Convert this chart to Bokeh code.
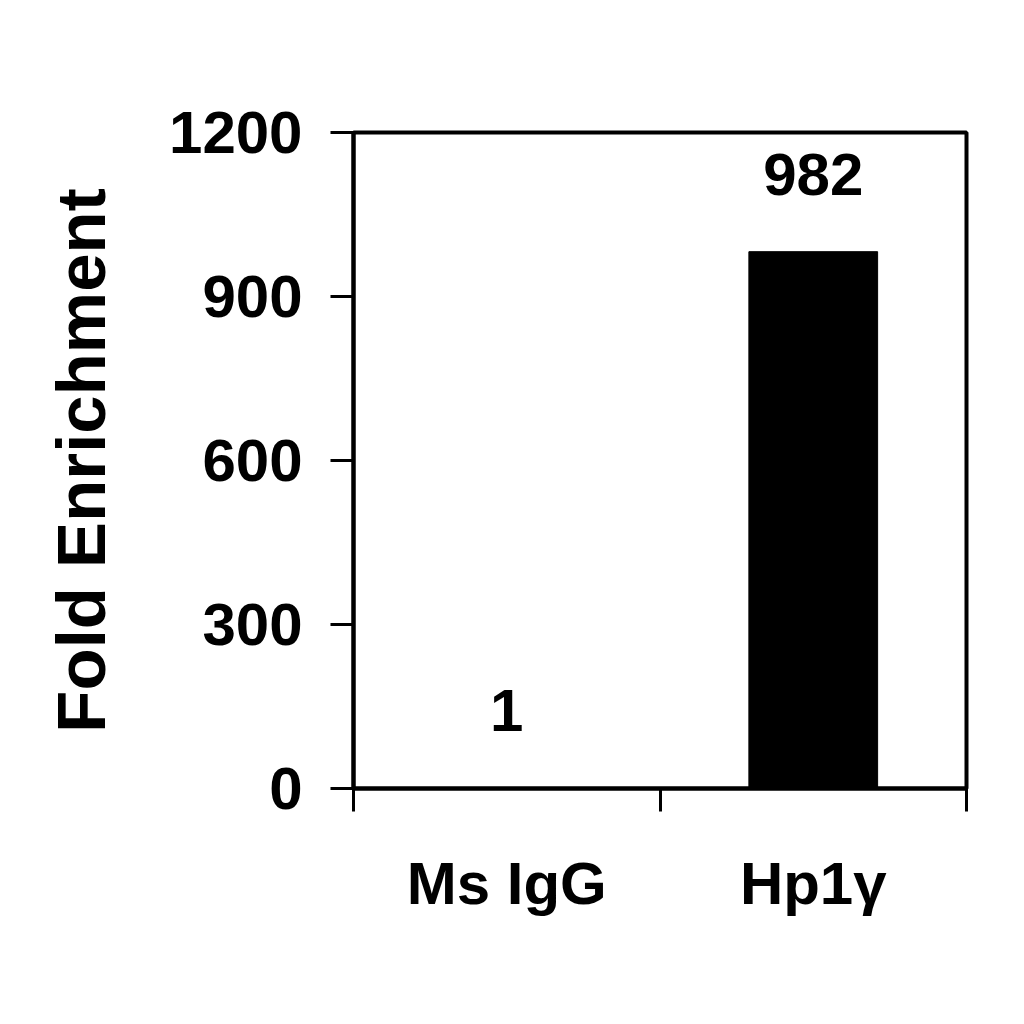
from bokeh.plotting import figure
from bokeh.models import Range1d, FixedTicker, ColumnDataSource
from bokeh.embed import file_html
from bokeh.resources import INLINE
from bokeh.core.properties import value

categories = ["Ms IgG", "Hp1\u03b3"]
fold_enrichment = [1, 982]
value_labels = ["1", "982"]
y_ticks = [0, 300, 600, 900, 1200]

FONT = "Liberation Sans"

positions = [i + 0.5 for i in range(len(categories))]
src = ColumnDataSource(dict(x=positions, top=fold_enrichment, label=value_labels))

p = figure(
    frame_width=613, frame_height=656,
    min_border_left=353, min_border_right=40, min_border_top=132, min_border_bottom=218,
    x_range=Range1d(0, len(categories)), y_range=Range1d(0, 1200),
    output_backend="svg", toolbar_location=None,
)
p.background_fill_color = "white"
p.border_fill_color = "white"
p.outline_line_color = "black"
p.outline_line_width = 4
p.xgrid.visible = False
p.ygrid.visible = False

p.vbar(x="x", top="top", width=0.42, bottom=0, source=src,
       fill_color="black", line_color="black")

p.text(x="x", y="top", text="label", source=src, y_offset=-77,
       text_align="center", text_baseline="alphabetic",
       text_font=value(FONT), text_font_style="bold",
       text_font_size="60px", text_color="black")

# y axis
ya = p.yaxis[0]
ya.ticker = FixedTicker(ticks=y_ticks)
ya.minor_tick_line_color = None
ya.major_tick_out = 23
ya.major_tick_in = 0
ya.major_tick_line_width = 3
ya.axis_line_width = 4
ya.major_label_standoff = 28
ya.major_label_text_font = FONT
ya.major_label_text_font_style = "bold"
ya.major_label_text_font_size = "60px"
ya.major_label_text_color = "black"
ya.axis_label = "Fold Enrichment"
ya.axis_label_text_font = FONT
ya.axis_label_text_font_style = "bold"
ya.axis_label_text_font_size = "69px"
ya.axis_label_text_color = "black"
ya.axis_label_standoff = 46

# x axis: labels at category centres, ticks at category boundaries
xa = p.xaxis[0]
xa.ticker = FixedTicker(ticks=positions, minor_ticks=list(range(len(categories) + 1)))
xa.major_label_overrides = {pos: cat for pos, cat in zip(positions, categories)}
xa.major_tick_out = 0
xa.major_tick_in = 0
xa.major_tick_line_color = None
xa.minor_tick_out = 23
xa.minor_tick_in = 0
xa.minor_tick_line_width = 3
xa.minor_tick_line_color = "black"
xa.axis_line_width = 4
xa.major_label_standoff = 38
xa.major_label_text_font = FONT
xa.major_label_text_font_style = "bold"
xa.major_label_text_font_size = "60px"
xa.major_label_text_color = "black"

open("out.html", "w").write(file_html(p, INLINE))
